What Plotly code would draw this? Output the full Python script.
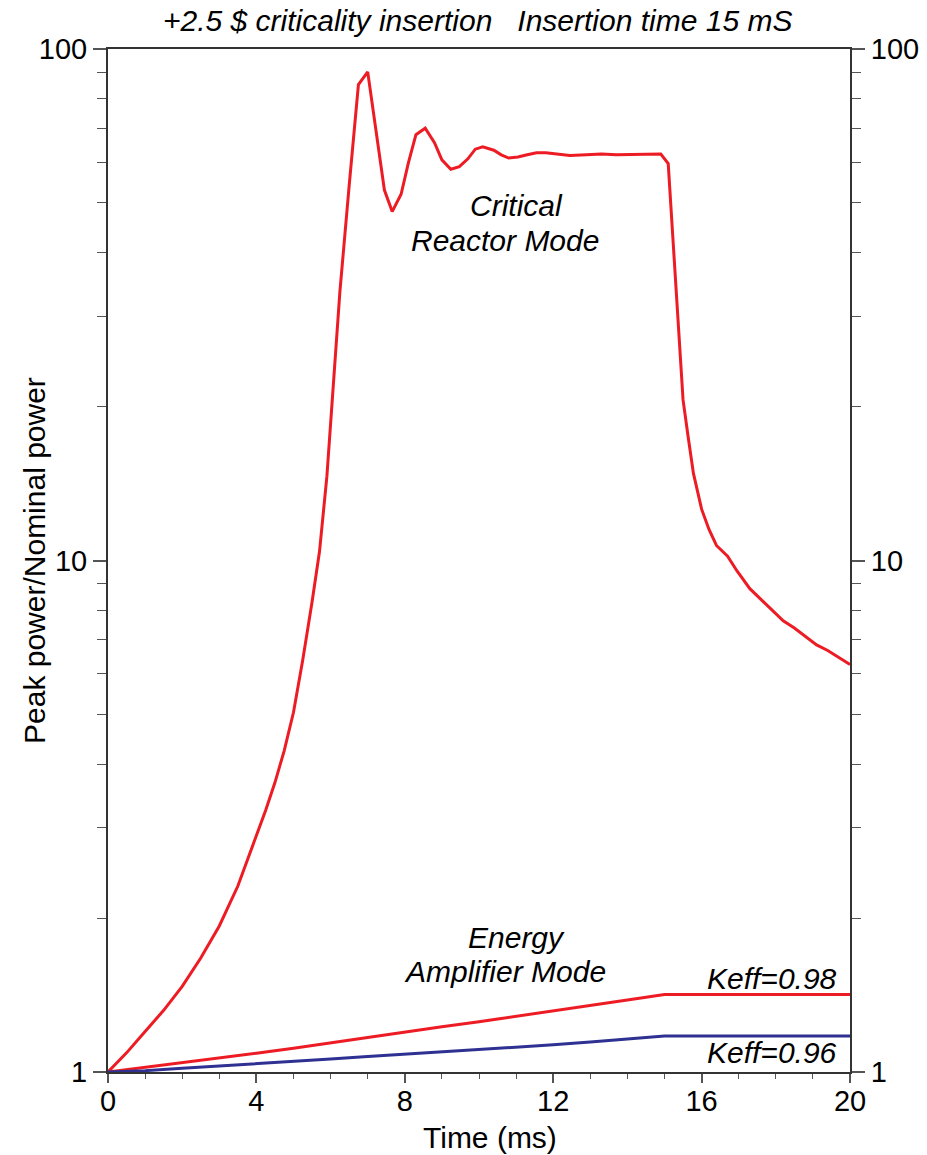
import math
import plotly.graph_objects as go

# ---- data ----
t_crit = [0, 0.5, 1.0, 1.5, 2.0, 2.5, 3.0, 3.5, 4.0, 4.25, 4.5, 4.75, 5.0, 5.25, 5.5, 5.7, 5.9,
          6.07, 6.25, 6.5, 6.75, 7.0, 7.25, 7.45, 7.66, 7.9, 8.1, 8.3, 8.55, 8.8, 9.0,
          9.24, 9.47, 9.7, 9.9, 10.1, 10.4, 10.6, 10.8, 11.05, 11.3, 11.55, 11.8, 12.1,
          12.45, 12.9, 13.3, 13.7, 14.2, 14.9, 15.1, 15.5, 15.64, 15.78, 16.0, 16.2,
          16.4, 16.7, 16.95, 17.3, 17.55, 17.9, 18.2, 18.5, 18.8, 19.1, 19.4, 20.0]
p_crit = [1.0, 1.09, 1.20, 1.32, 1.47, 1.67, 1.93, 2.31, 2.90, 3.25, 3.68, 4.25, 5.05, 6.4, 8.3, 10.4, 14.6,
          21.5, 33.5, 54.0, 85.2, 90.2, 66.7, 53.0, 48.1, 52.0, 60.0, 68.0, 70.0, 65.6, 60.7,
          58.2, 58.9, 61.0, 63.7, 64.4, 63.4, 62.1, 61.2, 61.5, 62.1, 62.7, 62.7, 62.3,
          61.9, 62.1, 62.3, 62.1, 62.1, 62.3, 59.7, 20.6, 17.4, 14.8, 12.6, 11.5,
          10.7, 10.2, 9.55, 8.81, 8.46, 8.0, 7.62, 7.38, 7.09, 6.84, 6.67, 6.26]

t_ea = [0, 1, 2, 3, 4, 5, 6, 7, 8, 9, 10, 11, 12, 13, 14, 15, 20]
p_k098 = [1.0, 1.021, 1.043, 1.064, 1.088, 1.113, 1.141, 1.169, 1.199, 1.226, 1.254,
          1.284, 1.316, 1.350, 1.383, 1.418, 1.418]
p_k096 = [1.0, 1.006, 1.017, 1.027, 1.04, 1.05, 1.06, 1.072, 1.083, 1.095, 1.107,
          1.118, 1.130, 1.145, 1.160, 1.176, 1.176]

x_ticks = [0, 4, 8, 12, 16, 20]
y_ticks = [1, 10, 100]
y_tick_text = ["1", "10", "100"]
y_minor = [2, 3, 4, 5, 6, 7, 8, 9, 20, 30, 40, 50, 60, 70, 80, 90]

RED = "#ED1C24"
BLUE = "#2E3192"
FONT = "Liberation Sans, Arial, Helvetica, sans-serif"
TXT = 30
TICK = 29

fig = go.Figure()
fig.add_trace(go.Scatter(x=t_crit, y=p_crit, mode="lines",
                         line=dict(color=RED, width=3), showlegend=False))
fig.add_trace(go.Scatter(x=t_ea, y=p_k098, mode="lines",
                         line=dict(color=RED, width=3), showlegend=False))
fig.add_trace(go.Scatter(x=t_ea, y=p_k096, mode="lines", yaxis="y2",
                         line=dict(color=BLUE, width=3), showlegend=False))

axis_common = dict(showgrid=False, zeroline=False, showline=True, automargin=False,
                   linecolor="#333333", linewidth=2,
                   tickcolor="#555555", tickwidth=1.5,
                   tickfont=dict(size=TICK, color="black", family=FONT))

yminor = dict(ticks="outside", ticklen=9, tickvals=y_minor, tickcolor="#555555", tickwidth=1)

fig.update_layout(
    width=927, height=1155,
    margin=dict(l=108, r=77, t=49, b=83),
    paper_bgcolor="white", plot_bgcolor="white",
    font=dict(family=FONT, color="black"),
    xaxis=dict(range=[0, 20], tickvals=x_ticks, ticks="outside", ticklen=9,
               mirror=True, ticklabelstandoff=-7,
               minor=dict(ticks="outside", ticklen=5, dtick=1,
                          tickcolor="#555555", tickwidth=1),
               **axis_common),
    yaxis=dict(type="log", range=[0, 2], tickvals=y_ticks, ticktext=y_tick_text,
               ticks="outside", ticklen=13, minor=yminor,
               **axis_common),
    yaxis2=dict(type="log", range=[0, 2], overlaying="y", side="right", anchor="x",
                tickvals=y_ticks, ticktext=y_tick_text,
                ticks="outside", ticklen=13, minor=yminor,
                **axis_common),
)

nb = "\u00a0"
fig.add_annotation(text="<i>+2.5 $ criticality insertion" + nb * 3 + "Insertion time 15 mS</i>",
                   xref="paper", yref="paper", x=0.498, y=1.0, yshift=29,
                   xanchor="center", yanchor="middle", showarrow=False,
                   font=dict(size=TXT, family=FONT, color="black"))
fig.add_annotation(text="Time (ms)", xref="paper", yref="paper", x=0.515, y=-0.0645,
                   xanchor="center", yanchor="middle", showarrow=False,
                   font=dict(size=TXT, family=FONT, color="black"))
fig.add_annotation(text="Peak power/Nominal power", xref="paper", yref="paper",
                   x=-0.0984, y=0.5005, textangle=-90,
                   xanchor="center", yanchor="middle", showarrow=False,
                   font=dict(size=TXT, family=FONT, color="black"))

labels = [
    ("<i>Critical</i>", 11.02, 49.4, "center"),
    ("<i>Reactor Mode</i>", 10.7, 42.2, "center"),
    ("<i>Energy</i>", 11.02, 1.835, "center"),
    ("<i>Amplifier Mode</i>", 10.7, 1.575, "center"),
    ("<i>Keff=0.98</i>", 19.7, 1.526, "right"),
    ("<i>Keff=0.96</i>", 19.7, 1.094, "right"),
]
for txt, x, y, xa in labels:
    fig.add_annotation(text=txt, x=x, y=math.log10(y), xref="x", yref="y",
                       xanchor=xa, yanchor="middle", showarrow=False,
                       font=dict(size=TXT, family=FONT, color="black"))

fig.write_html("out.html")
